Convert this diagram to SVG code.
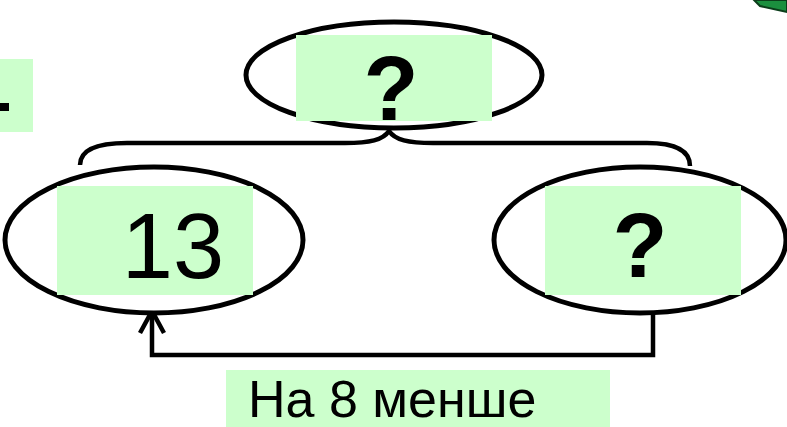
<svg xmlns="http://www.w3.org/2000/svg" width="787" height="427" viewBox="0 0 787 427">
<style>
.ell{fill:#ffffff;stroke:#000;stroke-width:5}
.box{fill:#ccffcc}
.ln{fill:none;stroke:#000;stroke-width:4.5}
.q{font-family:"Liberation Sans",Arial,sans-serif;font-weight:bold;font-size:90px;fill:#000;text-anchor:middle}
.num{font-family:"Liberation Sans",Arial,sans-serif;font-size:92px;fill:#000;text-anchor:middle}
.lbl{font-family:"Liberation Sans",Arial,sans-serif;font-size:52px;fill:#000}
</style>
<rect width="787" height="427" fill="#ffffff"/>
<g id="corner-left">
<rect class="box" x="0" y="59" width="33" height="73"/>
<rect x="0" y="103" width="9" height="8" fill="#000"/>
</g>
<g id="corner-right">
<polygon points="754,0 787,0 787,12 760,6" fill="#1b8f3e" stroke="#0b3d1a" stroke-width="2"/>
</g>
<g id="connectors">
<path class="ln" d="M80,165 C80,151 95,143 127,143 L345,143 C370,143 383,140 389,131 C395,140 408,143 433,143 L647,143 C675,143 690,150 690,166"/>
<path class="ln" d="M653,311 L653,355 L152,355 L152,311"/>
<path class="ln" d="M140,333 L152,311 L164,333"/>
</g>
<g id="node-top">
<ellipse class="ell" cx="394" cy="75" rx="148" ry="53"/>
<rect class="box" x="296" y="35" width="196" height="86"/>
<text class="q" x="391" y="120">?</text>
</g>
<g id="node-left">
<ellipse class="ell" cx="154" cy="240" rx="149" ry="73"/>
<rect class="box" x="57" y="186" width="196" height="109"/>
<text class="num" x="173" y="278">13</text>
</g>
<g id="node-right">
<ellipse class="ell" cx="640" cy="240" rx="146" ry="73"/>
<rect class="box" x="545" y="186" width="196" height="109"/>
<text class="q" x="640" y="277">?</text>
</g>
<g id="label">
<rect class="box" x="226" y="370" width="384" height="57"/>
<text class="lbl" x="248" y="417">На 8 менше</text>
</g>
</svg>
